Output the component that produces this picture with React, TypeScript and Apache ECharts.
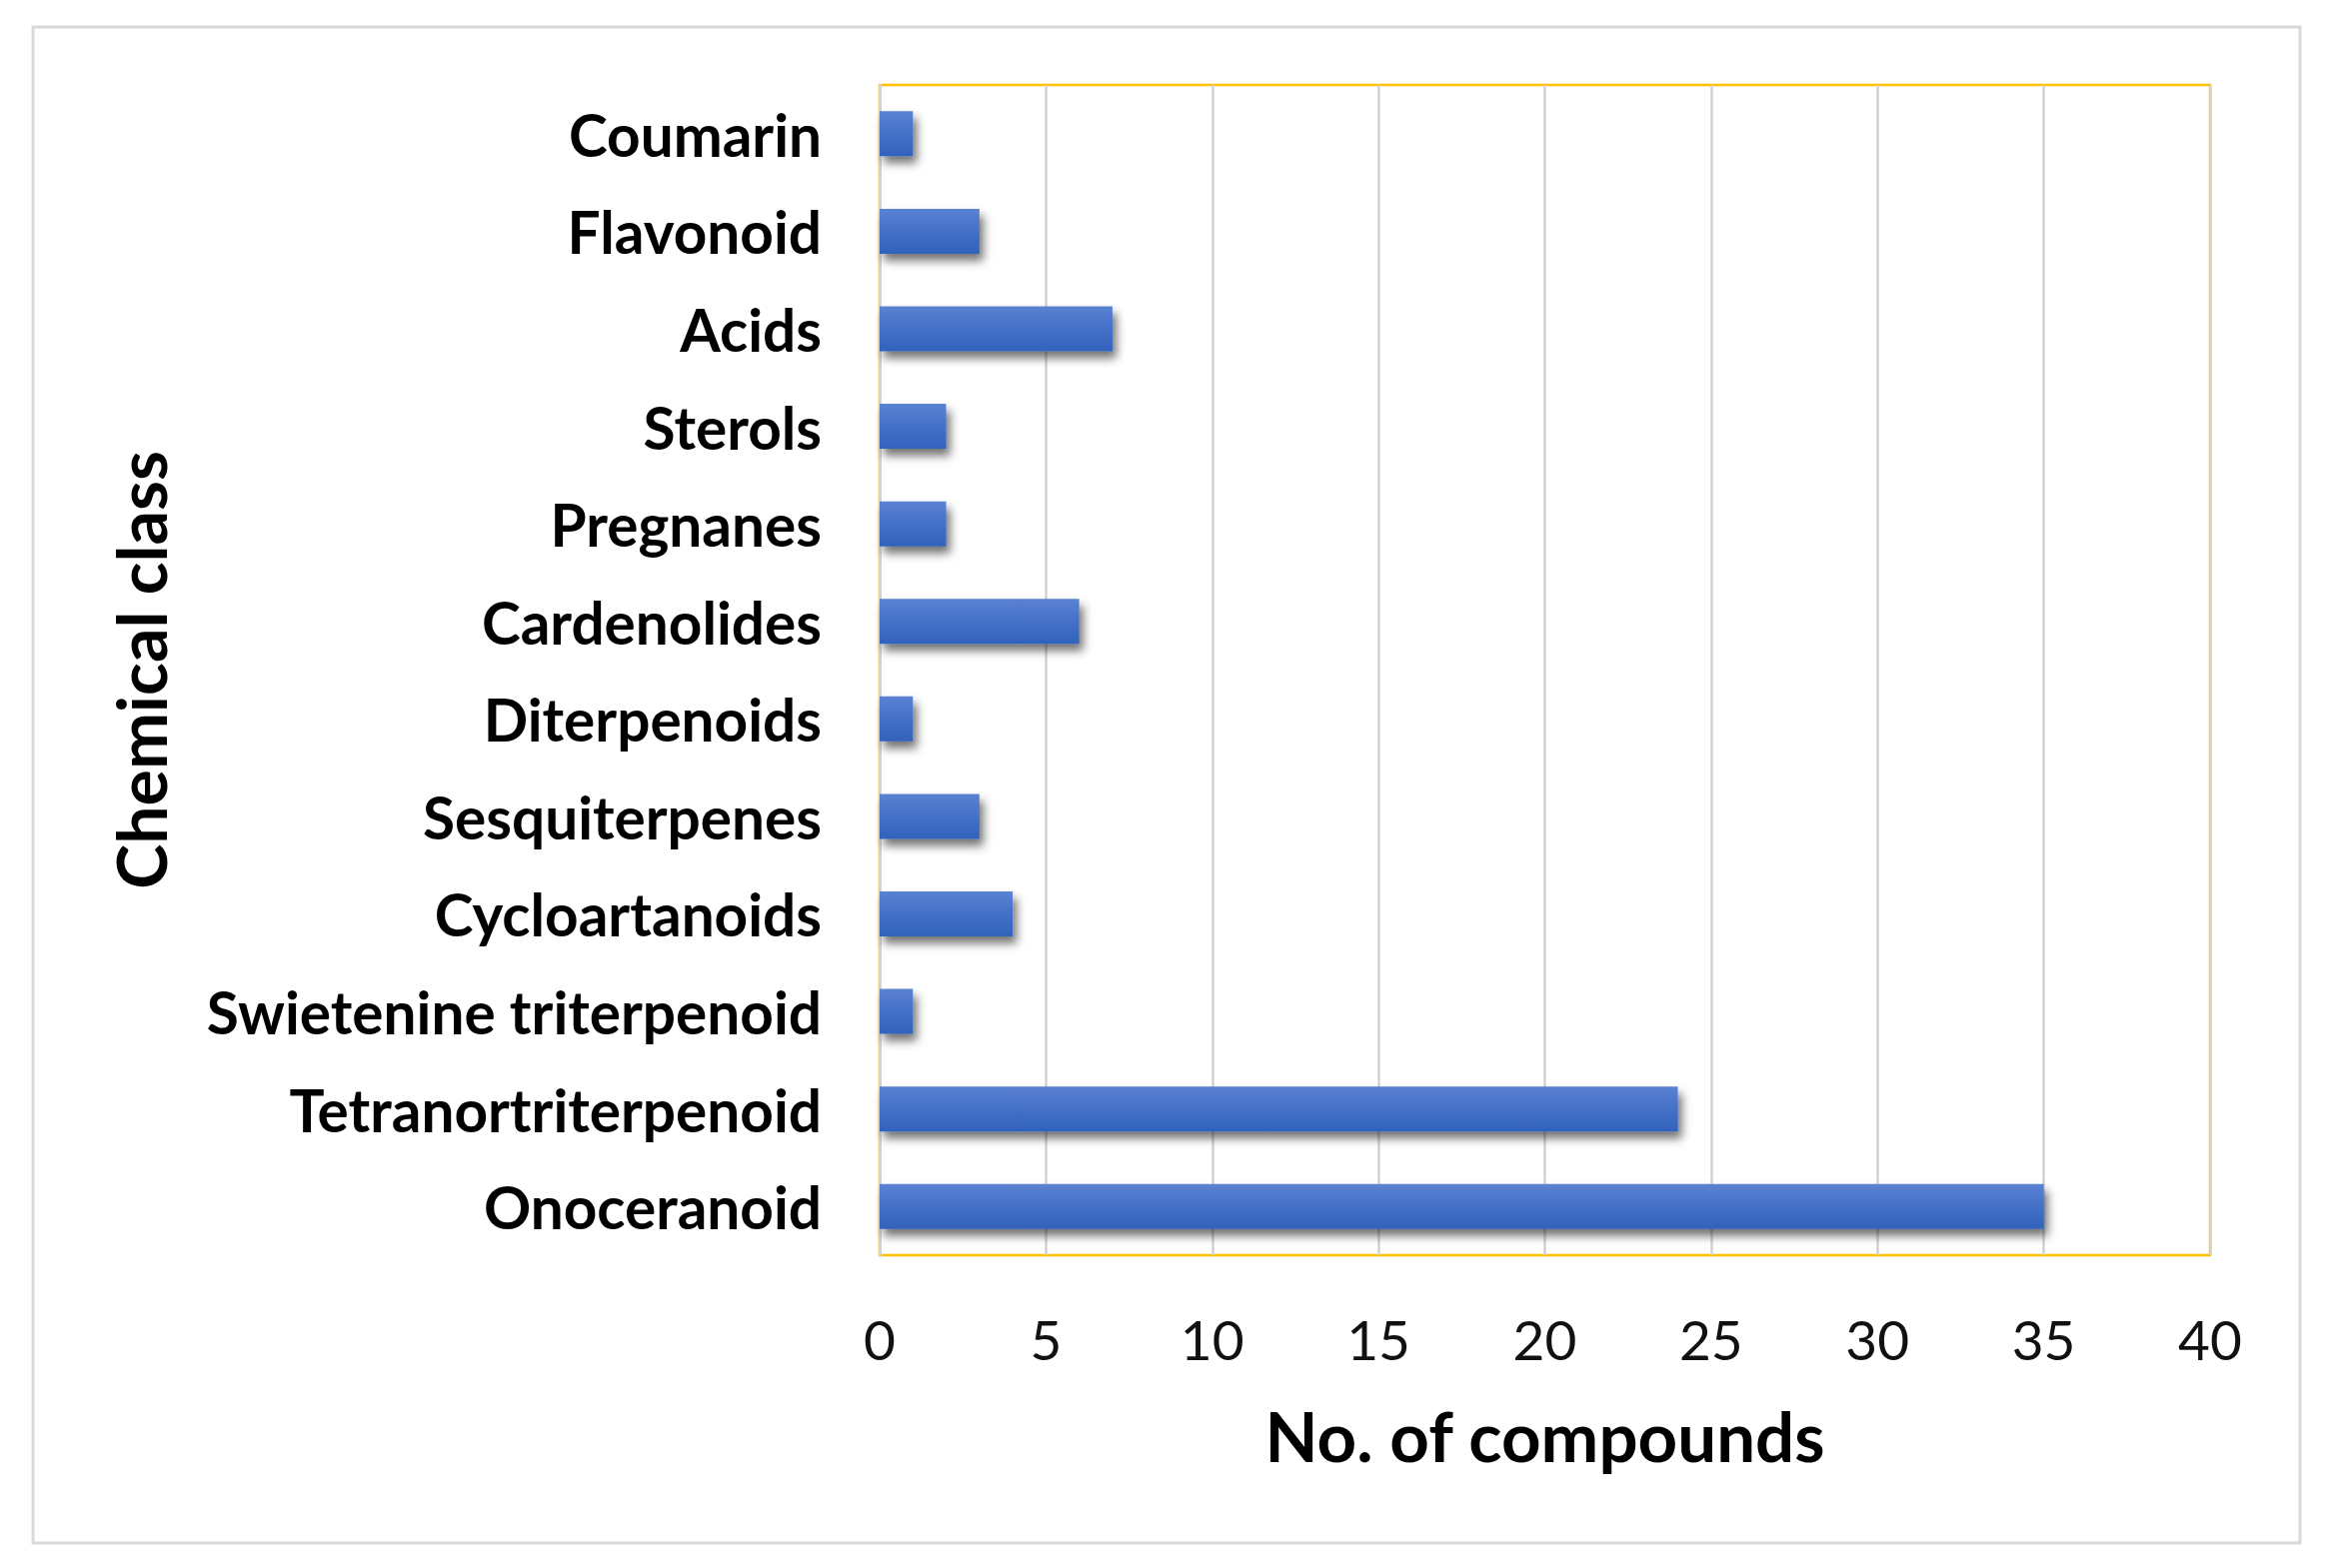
import React, { useEffect, useRef } from "react";
import * as echarts from "echarts";

const categories = [
  "Coumarin",
  "Flavonoid",
  "Acids",
  "Sterols",
  "Pregnanes",
  "Cardenolides",
  "Diterpenoids",
  "Sesquiterpenes",
  "Cycloartanoids",
  "Swietenine triterpenoid",
  "Tetranortriterpenoid",
  "Onoceranoid",
];
const compounds = [1, 3, 7, 2, 2, 6, 1, 3, 4, 1, 24, 35];
const xTicks = { min: 0, max: 40, interval: 5 };
const xTitle = "No. of compounds";
const yTitle = "Chemical class";

const FONT = "Lato, 'Open Sans', sans-serif";

export default function App() {
  const ref = useRef<HTMLDivElement>(null);
  useEffect(() => {
    if (!ref.current) return;
    const chart = echarts.init(ref.current, undefined, { renderer: "svg" });
    chart.setOption({
      animation: false,
      backgroundColor: "#ffffff",
      graphic: [
        {
          type: "rect",
          shape: { x: 33, y: 27, width: 2268, height: 1517 },
          style: { fill: "none", stroke: "#d9d9d9", lineWidth: 3 },
          z: 0,
        },
      ],
      grid: {
        left: 880,
        right: 117,
        top: 85,
        bottom: 313,
        show: true,
        borderColor: "#FFC000",
        borderWidth: 2.5,
        backgroundColor: "transparent",
      },
      xAxis: {
        type: "value",
        min: xTicks.min,
        max: xTicks.max,
        interval: xTicks.interval,
        name: xTitle,
        nameLocation: "middle",
        nameGap: 146,
        nameTextStyle: {
          fontFamily: FONT,
          fontWeight: "bold",
          fontSize: 69,
          color: "#000",
        },
        axisLine: { show: false },
        axisTick: { show: false },
        axisLabel: {
          fontFamily: FONT,
          fontSize: 55,
          color: "#111",
          margin: 56,
        },
        splitLine: { show: true, lineStyle: { color: "#d2d2d2", width: 2.5 } },
      },
      yAxis: {
        type: "category",
        data: categories,
        inverse: true,
        name: yTitle,
        nameLocation: "middle",
        nameRotate: 90,
        nameGap: 706,
        nameTextStyle: {
          fontFamily: FONT,
          fontWeight: "bold",
          fontSize: 68,
          color: "#000",
        },
        axisLine: { show: true, lineStyle: { color: "#d2d2d2", width: 3 } },
        axisTick: { show: false },
        axisLabel: {
          fontFamily: FONT,
          fontWeight: "bold",
          fontSize: 58.5,
          color: "#000",
          margin: 58,
        },
      },
      series: [
        {
          type: "bar",
          data: compounds,
          barWidth: 45,
          itemStyle: {
            color: new echarts.graphic.LinearGradient(0, 0, 0, 1, [
              { offset: 0, color: "#5b82d2" },
              { offset: 0.5, color: "#4470c8" },
              { offset: 1, color: "#3162bc" },
            ]),
            shadowBlur: 10,
            shadowColor: "rgba(0,0,0,0.55)",
            shadowOffsetX: 4,
            shadowOffsetY: 7,
          },
        },
      ],
    });
    return () => chart.dispose();
  }, []);
  return (
    <div
      ref={ref}
      style={{ position: "fixed", left: 0, top: 0, width: 2328, height: 1569 }}
    />
  );
}
